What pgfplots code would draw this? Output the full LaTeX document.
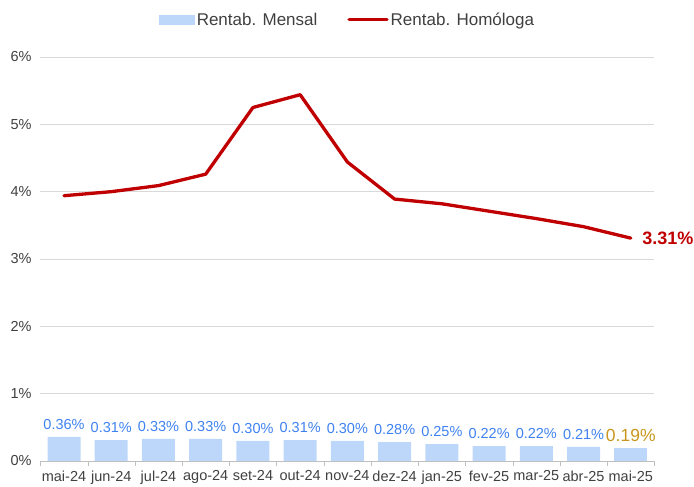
\documentclass[border=0pt]{standalone}
\usepackage{pgfplots}
\pgfplotsset{compat=1.18}
\usepackage{fontspec}
\setmainfont{Liberation Sans}
\definecolor{barblue}{RGB}{189,215,250}
\definecolor{lblblue}{RGB}{62,130,240}
\definecolor{lblgold}{RGB}{200,150,30}
\definecolor{linered}{RGB}{192,0,0}
\definecolor{txtgray}{RGB}{64,64,64}
\definecolor{gridgray}{RGB}{217,217,217}
\begin{document}
\begin{tikzpicture}
\begin{axis}[
  name=ax, at={(0,0)}, anchor=south west,
  scale only axis, width=614pt, height=404pt,
  xmin=-0.5, xmax=12.5, ymin=0, ymax=6,
  xtick={0,...,12},
  xticklabels={mai-24,jun-24,jul-24,ago-24,set-24,out-24,nov-24,dez-24,jan-25,fev-25,mar-25,abr-25,mai-25},
  minor xtick={-0.5,0.5,...,12.5},
  major x tick style={draw=none},
  minor x tick style={draw=gray!50},
  minor tick length=5pt,
  tick align=outside,
  ytick={0,1,...,6},
  yticklabel={\pgfmathprintnumber{\tick}\%},
  ytick style={draw=none},
  /pgf/number format/assume math mode=true,
  ymajorgrids, grid style={draw=gridgray, line width=0.8pt},
  axis x line*=bottom, axis y line*=left,
  x axis line style={draw=gray!50, -, line width=0.8pt},
  y axis line style={draw=none},
  tick label style={font=\fontsize{14.5}{16}\selectfont, text=txtgray},
  yticklabel style={xshift=-1pt},
  xticklabel style={yshift=-2pt},
  legend style={at={(0.5,1.092)}, anchor=center, draw=none, fill=none,
    legend columns=2, font=\fontsize{17}{19}\selectfont, text=txtgray,
    /tikz/every even column/.append style={column sep=28pt}},
]
\addplot[ybar, bar width=33pt, bar shift=0pt, fill=barblue, draw=none,
  nodes near coords={\pgfmathprintnumber[fixed,fixed zerofill,precision=2]{\pgfplotspointmeta}\%},
  nodes near coords style={font=\fontsize{14.5}{16}\selectfont, text=lblblue, anchor=south, yshift=4pt},
  legend image code/.code={\fill[barblue] (0pt,-5pt) rectangle (36pt,5pt);}]
  coordinates {(0,0.36) (1,0.31) (2,0.33) (3,0.33) (4,0.30) (5,0.31) (6,0.30) (7,0.28) (8,0.25) (9,0.22) (10,0.22) (11,0.21)};
\addlegendentry{Rentab. Mensal}
\addplot[ybar, bar width=33pt, bar shift=0pt, fill=barblue, draw=none, forget plot,
  nodes near coords={\pgfmathprintnumber[fixed,fixed zerofill,precision=2]{\pgfplotspointmeta}\%},
  nodes near coords style={font=\fontsize{17.5}{19}\selectfont, text=lblgold, anchor=south, yshift=3pt}]
  coordinates {(12,0.19)};
\addplot[linered, line width=3.3pt, mark=none, line join=round, line cap=round,
  legend image code/.code={\draw[linered, line width=3.3pt, line cap=round] (0pt,0pt) -- (38pt,0pt);}]
  coordinates {(0,3.94) (1,4.00) (2,4.09) (3,4.26) (4,5.25) (5,5.44) (6,4.44) (7,3.89) (8,3.82) (9,3.71) (10,3.60) (11,3.48) (12,3.31)};
\addlegendentry{Rentab. Homóloga}
\addplot[draw=none, mark=none, forget plot,
  nodes near coords={\pgfmathprintnumber[fixed,fixed zerofill,precision=2]{\pgfplotspointmeta}\%},
  nodes near coords style={font=\fontsize{18}{20}\selectfont\bfseries, text=linered, anchor=west, xshift=8pt}]
  coordinates {(12,3.31)};
\end{axis}
\pgfresetboundingbox
\path (-40.4pt,-26pt) rectangle (653.6pt,461pt);
\end{tikzpicture}
\end{document}
